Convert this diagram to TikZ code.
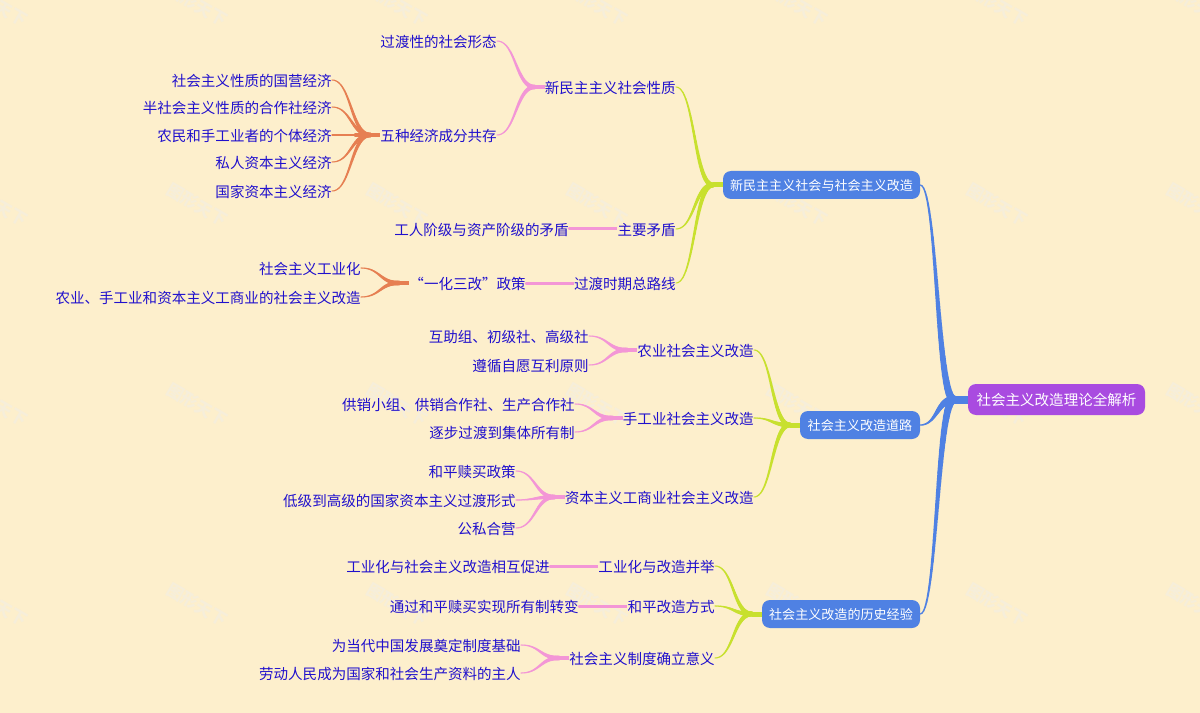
\documentclass[tikz,border=0pt]{standalone}
\usepackage{fontspec}
\setmainfont{Noto Sans CJK SC}
\usetikzlibrary{calc,backgrounds}
\definecolor{bgc}{HTML}{FDEFCC}
\definecolor{txtc}{HTML}{2010CC}
\definecolor{bluec}{HTML}{4F81E3}
\definecolor{purc}{HTML}{A94BE0}
\definecolor{limec}{HTML}{C8E02E}
\definecolor{pinkc}{HTML}{F396D6}
\definecolor{orgc}{HTML}{E67F52}
\definecolor{wmc}{HTML}{F6EEDA}
\tikzset{
  x=0.75pt,y=-0.75pt,
  lab/.style={inner sep=0pt,text=txtc,font=\fontsize{10.9pt}{13pt}\selectfont,text height=10.45pt,text depth=0.55pt},
  labr/.style={lab,anchor=east},
  labl/.style={lab,anchor=west},
  rootbox/.style={fill=purc,rounded corners=6pt,text=white,inner sep=0pt,minimum width=132.75pt,minimum height=23.25pt,font=\fontsize{10.9pt}{13pt}\selectfont},
  branchbox/.style={fill=bluec,rounded corners=6pt,text=white,inner sep=0pt,minimum height=21pt,text height=8.9pt,text depth=1.1pt,font=\fontsize{9.8pt}{12pt}\selectfont},
  wmark/.style={text=wmc,rotate=-30,inner sep=0pt,font=\fontsize{12.5pt}{14pt}\selectfont\bfseries},
}
% colour, child anchor, parent anchor, thin width px, thick width px, stub px
\newcommand{\taper}[6]{%
  \path let \p1=(#2),\p2=(#3) in \pgfextra{\xdef\ax{\x1}\xdef\ay{\y1}\xdef\bx{\x2}\xdef\by{\y2}};
  \pgfmathsetmacro\qx{\bx-#6*0.75}%
  \pgfmathsetmacro\qy{\by}%
  \pgfmathsetmacro\ox{\ax}%
  \pgfmathsetmacro\oy{\ay}%
  \xdef\px{\ox}\xdef\py{\oy}%
  \foreach \i in {1,...,28}{%
    \pgfmathsetmacro\myt{\i/28}%
    \pgfmathsetmacro\myu{1-\myt}%
    \pgfmathsetmacro\cx{\ox+(\qx-\ox)*(1.5*\myu*\myu*\myt+1.5*\myu*\myt*\myt+\myt*\myt*\myt)}%
    \pgfmathsetmacro\cy{\oy+(\qy-\oy)*\myt*\myt*(3-2*\myt)}%
    \pgfmathsetmacro\lw{(#4+(#5-#4)*pow(\myt,1.4))*0.75}%
    \draw[#1,line width=\lw pt,line cap=round] (\px pt,\py pt) -- (\cx pt,\cy pt);%
    \xdef\px{\cx}\xdef\py{\cy}%
  }%
  \pgfmathsetmacro\lw{#5*0.75}%
  \draw[#1,line width=\lw pt] (\qx pt,\qy pt) -- (#3);%
}
\begin{document}
\begin{tikzpicture}
\useasboundingbox (0,0) rectangle (1200,713);
% nodes
\node[rootbox] (root) at (1056.5,399.5) {社会主义改造理论全解析};
\node[branchbox,minimum width=147.75pt] (A) at (821.5,185) {新民主主义社会与社会主义改造};
\node[branchbox,minimum width=90pt] (B) at (860,425) {社会主义改造道路};
\node[branchbox,minimum width=118.5pt] (C) at (841,614) {社会主义改造的历史经验};
% A
\node[labr] (a1) at (676,87) {新民主主义社会性质};
\node[labr] (a2) at (676,229) {主要矛盾};
\node[labr] (a3) at (676,283) {过渡时期总路线};
\node[labr] (a11) at (497,41) {过渡性的社会形态};
\node[labr] (a12) at (497,135) {五种经济成分共存};
\node[labr] (a121) at (332,80) {社会主义性质的国营经济};
\node[labr] (a122) at (332,107) {半社会主义性质的合作社经济};
\node[labr] (a123) at (332,135) {农民和手工业者的个体经济};
\node[labr] (a124) at (332,162) {私人资本主义经济};
\node[labr] (a125) at (332,191) {国家资本主义经济};
\node[labr] (a21) at (569,229) {工人阶级与资产阶级的矛盾};
\node[labr] (a31) at (526,283) {“一化三改”政策};
\node[labr] (a311) at (361,268) {社会主义工业化};
\node[labr] (a312) at (361,297) {农业、手工业和资本主义工商业的社会主义改造};
% B
\node[labr] (b1) at (754,350) {农业社会主义改造};
\node[labr] (b2) at (754,418) {手工业社会主义改造};
\node[labr] (b3) at (754,497) {资本主义工商业社会主义改造};
\node[labr] (b11) at (589,336) {互助组、初级社、高级社};
\node[labr] (b12) at (589,365) {遵循自愿互利原则};
\node[labr] (b21) at (575,404) {供销小组、供销合作社、生产合作社};
\node[labr] (b22) at (575,432) {逐步过渡到集体所有制};
\node[labr] (b31) at (516,471) {和平赎买政策};
\node[labr] (b32) at (516,500) {低级到高级的国家资本主义过渡形式};
\node[labr] (b33) at (516,528) {公私合营};
% C
\node[labr] (c1) at (715,566) {工业化与改造并举};
\node[labr] (c2) at (715,606) {和平改造方式};
\node[labr] (c3) at (715,658) {社会主义制度确立意义};
\node[labr] (c11) at (550,566) {工业化与社会主义改造相互促进};
\node[labr] (c21) at (579,606) {通过和平赎买实现所有制转变};
\node[labr] (c31) at (521,645) {为当代中国发展奠定制度基础};
\node[labr] (c32) at (521,673) {劳动人民成为国家和社会生产资料的主人};
\begin{pgfonlayer}{background}
\fill[bgc] (0,0) rectangle (1200,713);
\foreach \xi in {0,1,2,3,4,5,6}{\foreach \yi in {0,1,2,3}{%
  \node[wmark] (w\xi\yi) at (-3+200*\xi,5+200*\yi) {图形天下};
}}
\taper{bluec}{A.east}{root.west}{1.2}{8}{14}
\taper{bluec}{B.east}{root.west}{1.2}{8}{14}
\taper{bluec}{C.east}{root.west}{1.2}{8}{14}
\taper{limec}{a1.east}{A.west}{1}{5}{10}
\taper{limec}{a2.east}{A.west}{1}{5}{10}
\taper{limec}{a3.east}{A.west}{1}{5}{10}
\taper{limec}{b1.east}{B.west}{1}{5}{10}
\taper{limec}{b2.east}{B.west}{1}{5}{10}
\taper{limec}{b3.east}{B.west}{1}{5}{10}
\taper{limec}{c1.east}{C.west}{1}{5}{10}
\taper{limec}{c2.east}{C.west}{1}{5}{10}
\taper{limec}{c3.east}{C.west}{1}{5}{10}
\taper{pinkc}{a11.east}{a1.west}{1}{4.5}{10}
\taper{pinkc}{a12.east}{a1.west}{1}{4.5}{10}
\taper{pinkc}{a21.east}{a2.west}{3}{3}{10}
\taper{pinkc}{a31.east}{a3.west}{3}{3}{10}
\taper{pinkc}{b11.east}{b1.west}{1}{4.5}{10}
\taper{pinkc}{b12.east}{b1.west}{1}{4.5}{10}
\taper{pinkc}{b21.east}{b2.west}{1}{4.5}{10}
\taper{pinkc}{b22.east}{b2.west}{1}{4.5}{10}
\taper{pinkc}{b31.east}{b3.west}{1}{4.5}{10}
\taper{pinkc}{b32.east}{b3.west}{1}{4.5}{10}
\taper{pinkc}{b33.east}{b3.west}{1}{4.5}{10}
\taper{pinkc}{c11.east}{c1.west}{3}{3}{10}
\taper{pinkc}{c21.east}{c2.west}{3}{3}{10}
\taper{pinkc}{c31.east}{c3.west}{1}{4.5}{10}
\taper{pinkc}{c32.east}{c3.west}{1}{4.5}{10}
\taper{orgc}{a121.east}{a12.west}{1}{4.5}{10}
\taper{orgc}{a122.east}{a12.west}{1}{4.5}{10}
\taper{orgc}{a123.east}{a12.west}{1}{4.5}{10}
\taper{orgc}{a124.east}{a12.west}{1}{4.5}{10}
\taper{orgc}{a125.east}{a12.west}{1}{4.5}{10}
\taper{orgc}{a311.east}{a31.west}{1}{4.5}{10}
\taper{orgc}{a312.east}{a31.west}{1}{4.5}{10}
\end{pgfonlayer}
\end{tikzpicture}
\end{document}
